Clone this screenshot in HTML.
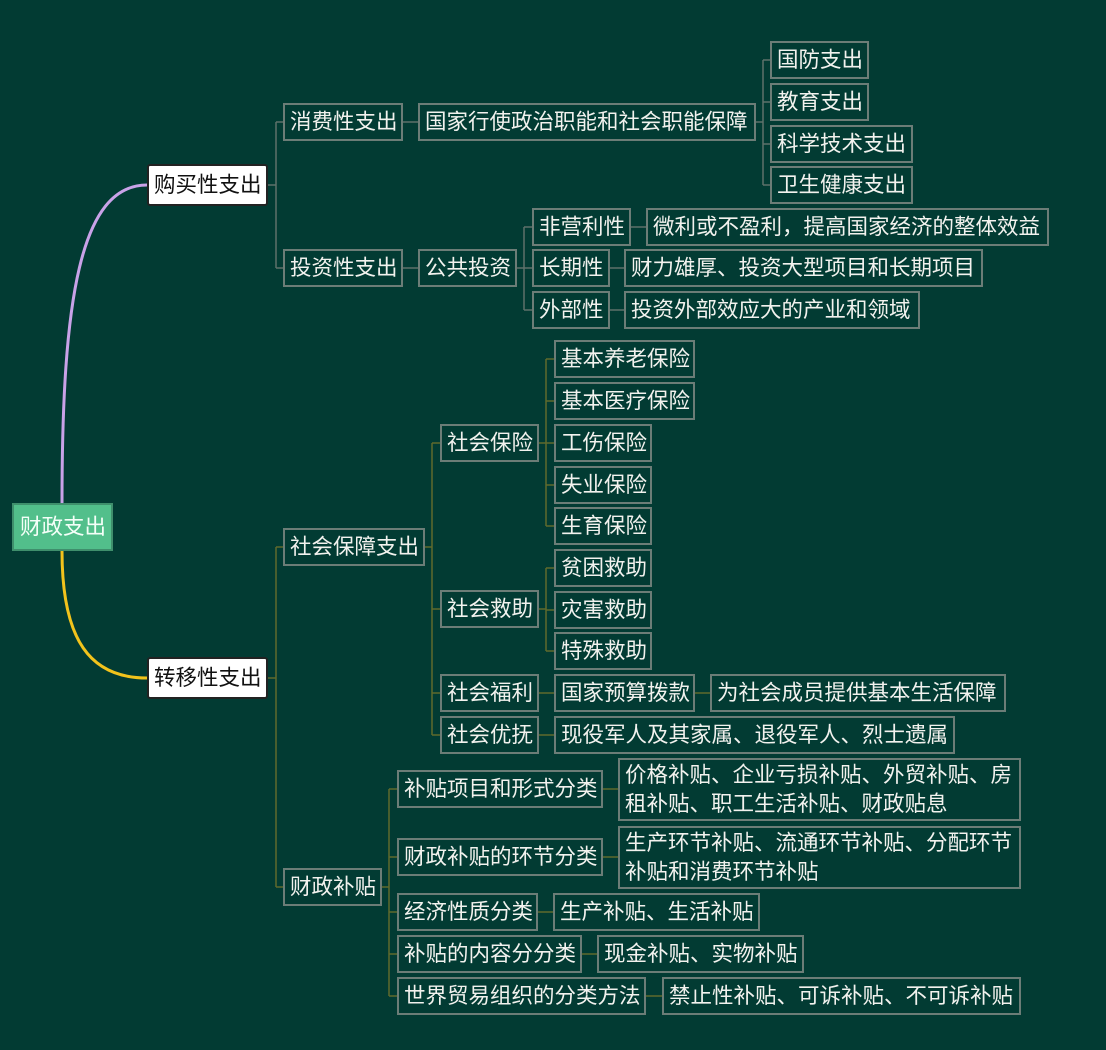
<!DOCTYPE html>
<html><head><meta charset="utf-8"><style>
body{margin:0;width:1106px;height:1050px;background:#023b33;overflow:hidden;position:relative;font-family:"Liberation Sans","Noto Sans CJK SC",sans-serif}
.b{position:absolute;box-sizing:border-box;border:2px solid #6c7d77;color:#f2f2ee;font-size:21.5px;line-height:34px;padding-left:5px;white-space:nowrap;overflow:visible}
.t{line-height:29px;padding-top:1px;white-space:normal;padding-right:2px}
.w{background:#fff;color:#111;border:2px solid #222;border-radius:3px;line-height:38px}
svg{position:absolute;left:0;top:0}
</style></head><body>
<svg width="1106" height="1050" fill="none">
<path d="M62 503 C62 300,80 185,147 185" stroke="#c9a2e8" stroke-width="3"/>
<path d="M62 551 C62 640,90 678,147 678" stroke="#f2c31c" stroke-width="3"/>
<g stroke="#5e716b" stroke-width="1.5">
<path d="M268 185H276M276 122V268M276 122H283M276 268H283"/>
<path d="M403 122H418M403 268H418"/>
<path d="M756 122H763M763 60V185M763 60H770M763 102H770M763 144H770M763 185H770"/>
<path d="M517 268H524M524 227V310M524 227H532M524 268H532M524 310H532"/>
<path d="M631 227H646M610 268H624M610 310H624"/>
</g>
<g stroke="#5f6a2c" stroke-width="1.5">
<path d="M268 678H276M276 547V887M276 547H283M276 887H283"/>
<path d="M425 547H432M432 443V735M432 443H440M432 609H440M432 693H440M432 735H440"/>
<path d="M539 443H546M546 359V526M546 359H554M546 401H554M546 443H554M546 485H554M546 526H554"/>
<path d="M539 609H546M546 568V651M546 568H554M546 610H554M546 651H554"/>
<path d="M539 693H554M695 693H710M539 735H554"/>
<path d="M382 887H389M389 789V996M389 789H397M389 857H397M389 912H397M389 954H397M389 996H397"/>
<path d="M603 789H618M603 857H618M538 912H553M582 954H597M646 996H662"/>
</g>
</svg>
<div class="b" style="left:12px;top:503px;width:101px;height:48px;background:#52bf8b;border-color:#3f8f6c;line-height:44px;padding-left:6px;color:#f4fff8">财政支出</div>
<div class="b w" style="left:147px;top:164px;width:121px;height:42px;">购买性支出</div>
<div class="b w" style="left:147px;top:657px;width:121px;height:42px;">转移性支出</div>

<div class="b" style="left:283px;top:103px;width:120px;height:38px">消费性支出</div>
<div class="b" style="left:418px;top:103px;width:338px;height:38px">国家行使政治职能和社会职能保障</div>
<div class="b" style="left:770px;top:41px;width:99px;height:38px">国防支出</div>
<div class="b" style="left:770px;top:83px;width:99px;height:38px">教育支出</div>
<div class="b" style="left:770px;top:125px;width:143px;height:38px">科学技术支出</div>
<div class="b" style="left:770px;top:166px;width:143px;height:38px">卫生健康支出</div>
<div class="b" style="left:283px;top:249px;width:120px;height:38px">投资性支出</div>
<div class="b" style="left:418px;top:249px;width:99px;height:38px">公共投资</div>
<div class="b" style="left:532px;top:208px;width:99px;height:38px">非营利性</div>
<div class="b" style="left:646px;top:208px;width:403px;height:38px">微利或不盈利，提高国家经济的整体效益</div>
<div class="b" style="left:532px;top:249px;width:78px;height:38px">长期性</div>
<div class="b" style="left:624px;top:249px;width:359px;height:38px">财力雄厚、投资大型项目和长期项目</div>
<div class="b" style="left:532px;top:291px;width:78px;height:38px">外部性</div>
<div class="b" style="left:624px;top:291px;width:296px;height:38px">投资外部效应大的产业和领域</div>

<div class="b" style="left:283px;top:528px;width:142px;height:38px">社会保障支出</div>
<div class="b" style="left:440px;top:424px;width:99px;height:38px">社会保险</div>
<div class="b" style="left:554px;top:340px;width:141px;height:38px">基本养老保险</div>
<div class="b" style="left:554px;top:382px;width:141px;height:38px">基本医疗保险</div>
<div class="b" style="left:554px;top:424px;width:98px;height:38px">工伤保险</div>
<div class="b" style="left:554px;top:466px;width:98px;height:38px">失业保险</div>
<div class="b" style="left:554px;top:507px;width:98px;height:38px">生育保险</div>
<div class="b" style="left:440px;top:590px;width:99px;height:38px">社会救助</div>
<div class="b" style="left:554px;top:549px;width:98px;height:38px">贫困救助</div>
<div class="b" style="left:554px;top:591px;width:98px;height:38px">灾害救助</div>
<div class="b" style="left:554px;top:632px;width:98px;height:38px">特殊救助</div>
<div class="b" style="left:440px;top:674px;width:99px;height:38px">社会福利</div>
<div class="b" style="left:554px;top:674px;width:141px;height:38px">国家预算拨款</div>
<div class="b" style="left:710px;top:674px;width:296px;height:38px">为社会成员提供基本生活保障</div>
<div class="b" style="left:440px;top:716px;width:99px;height:38px">社会优抚</div>
<div class="b" style="left:554px;top:716px;width:401px;height:38px">现役军人及其家属、退役军人、烈士遗属</div>

<div class="b" style="left:283px;top:868px;width:99px;height:38px">财政补贴</div>
<div class="b" style="left:397px;top:770px;width:206px;height:38px">补贴项目和形式分类</div>
<div class="b t" style="left:618px;top:758px;width:403px;height:63px">价格补贴、企业亏损补贴、外贸补贴、房<br>租补贴、职工生活补贴、财政贴息</div>
<div class="b" style="left:397px;top:838px;width:206px;height:38px">财政补贴的环节分类</div>
<div class="b t" style="left:618px;top:826px;width:403px;height:63px">生产环节补贴、流通环节补贴、分配环节<br>补贴和消费环节补贴</div>
<div class="b" style="left:397px;top:893px;width:141px;height:38px">经济性质分类</div>
<div class="b" style="left:553px;top:893px;width:207px;height:38px">生产补贴、生活补贴</div>
<div class="b" style="left:397px;top:935px;width:185px;height:38px">补贴的内容分分类</div>
<div class="b" style="left:597px;top:935px;width:207px;height:38px">现金补贴、实物补贴</div>
<div class="b" style="left:397px;top:977px;width:249px;height:38px">世界贸易组织的分类方法</div>
<div class="b" style="left:662px;top:977px;width:359px;height:38px">禁止性补贴、可诉补贴、不可诉补贴</div>
</body></html>
